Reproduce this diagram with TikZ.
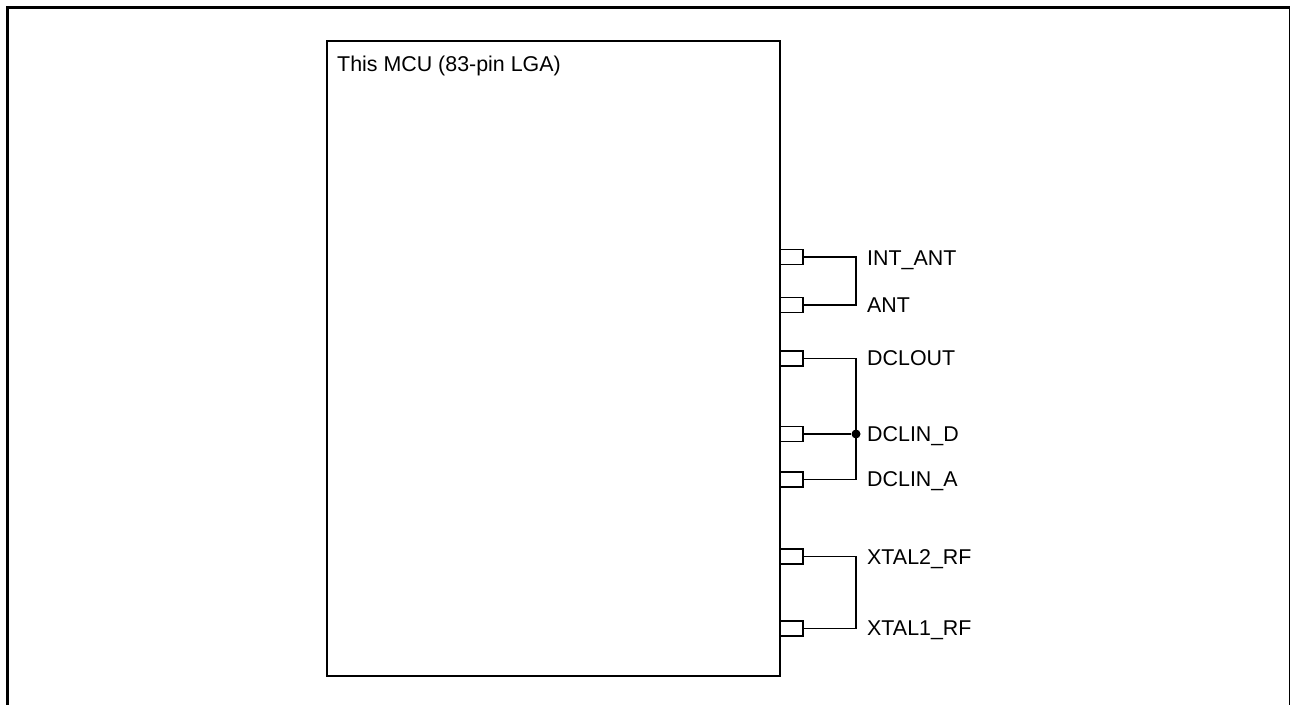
\documentclass[tikz,border=0pt]{standalone}
\usepackage{fontspec}
\setmainfont{Liberation Sans}
\begin{document}
\begin{tikzpicture}[yscale=-1
,pstyle0/.style={color=black,line width=3pt}
,pstyle1/.style={draw=black,line width=1.8pt,rectangle,inner sep=0,minimum width=453pt,minimum height=635pt}
,pstyle2/.style={draw=black,fill=white,line width=1.8pt,rectangle,inner sep=0,minimum width=23pt,minimum height=15pt}
,pstyle3/.style={color=black,line width=1.5pt}
,pstyle4/.style={color=black,inner sep=0,anchor=base west,font=\fontsize{21.4}{25}\selectfont}
,pstyle5/.style={fill=black,circle,inner sep=0,minimum size=9pt}
]
\useasboundingbox (0pt,0pt) rectangle (1290pt,704pt);
\draw[pstyle0] (7.5pt,710pt) -- (7.5pt,7.5pt) -- (1290.5pt,7.5pt) -- (1290.5pt,710pt);
\node (mcu) at (553.5pt,358.5pt)[pstyle1]{};
\node (mcutitle) at (337pt,71pt)[pstyle4]{This MCU (83-pin LGA)};
\node (pinintant) at (791.5pt,257pt)[pstyle2]{};
\node (pinant) at (791.5pt,305pt)[pstyle2]{};
\node (pindclout) at (791.5pt,358.5pt)[pstyle2]{};
\node (pindclind) at (791.5pt,434pt)[pstyle2]{};
\node (pindclina) at (791.5pt,479.5pt)[pstyle2]{};
\node (pinxtaltwo) at (791.5pt,556.5pt)[pstyle2]{};
\node (pinxtalone) at (791.5pt,628.5pt)[pstyle2]{};
\node (intant) at (867pt,265.5pt)[pstyle4]{INT\_ANT};
\node (ant) at (867pt,312pt)[pstyle4]{ANT};
\node (dclout) at (867pt,365.5pt)[pstyle4]{DCLOUT};
\node (dclind) at (867pt,441.5pt)[pstyle4]{DCLIN\_D};
\node (dclina) at (867pt,486.5pt)[pstyle4]{DCLIN\_A};
\node (xtaltwo) at (867pt,564pt)[pstyle4]{XTAL2\_RF};
\node (xtalone) at (867pt,635.5pt)[pstyle4]{XTAL1\_RF};
\node (junction) at (856pt,434pt)[pstyle5]{};
\coordinate (busintant) at (856pt,257pt);
\coordinate (busant) at (856pt,305pt);
\coordinate (busdclout) at (856pt,358.5pt);
\coordinate (busdclina) at (856pt,479.5pt);
\coordinate (busxtaltwo) at (856pt,556.5pt);
\coordinate (busxtalone) at (856pt,628.5pt);
\draw[pstyle3] (pinintant.east) -- (busintant) -- (busant) -- (pinant.east);
\draw[pstyle3] (pindclout.east) -- (busdclout) -- (busdclina) -- (pindclina.east);
\draw[pstyle3] (pindclind.east) -- (junction);
\draw[pstyle3] (pinxtaltwo.east) -- (busxtaltwo) -- (busxtalone) -- (pinxtalone.east);
\end{tikzpicture}
\end{document}
